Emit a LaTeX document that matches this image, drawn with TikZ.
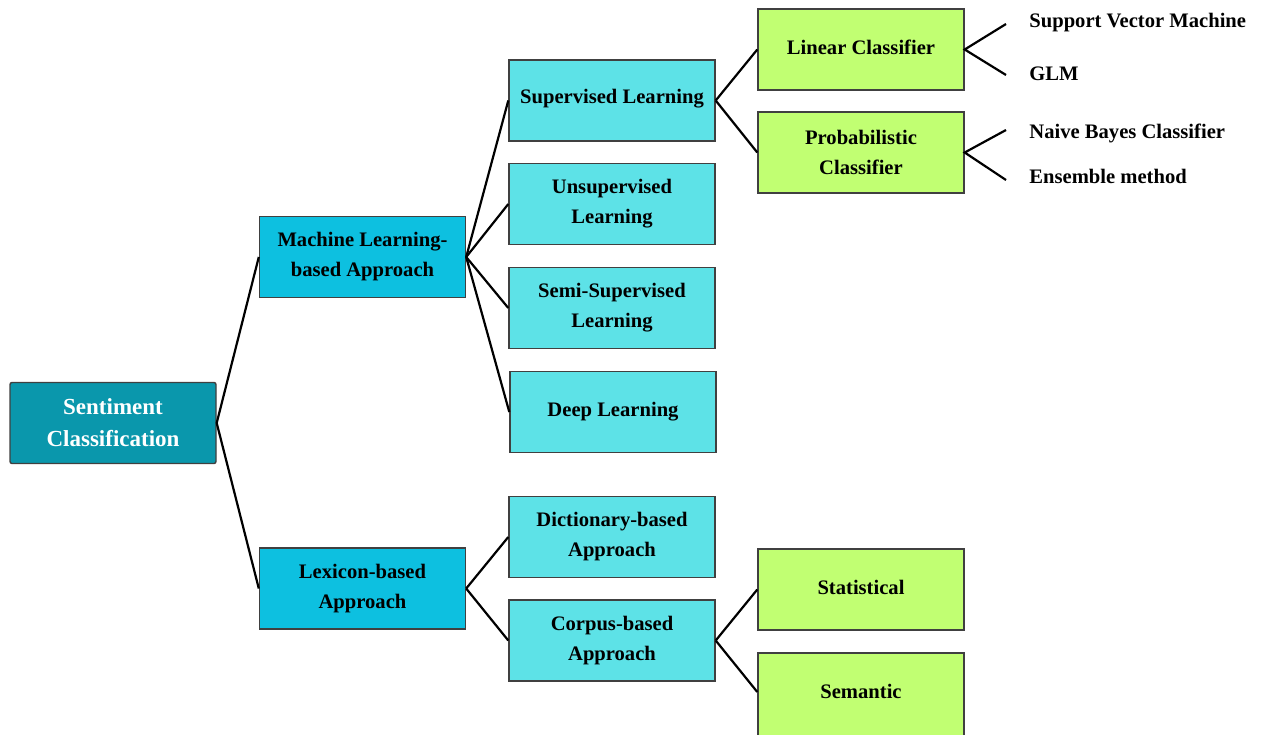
\documentclass[tikz,border=0pt]{standalone}
\usepackage{fontspec}
\setmainfont{Liberation Serif}
% lift a label slightly without changing the node's size
\newcommand\lift[1]{\raisebox{1pt}[\height][\depth]{#1}}
\begin{document}
\begin{tikzpicture}[x=0.5pt,y=-0.5pt,
  box/.style={draw=black!75, line width=0.7pt, minimum width=103pt, minimum height=40.5pt,
    inner sep=0pt, align=center, font=\bfseries\fontsize{10.3}{15}\selectfont},
  rootbox/.style={box, fill=rootteal, rounded corners=1pt, text=white,
    font=\bfseries\fontsize{11.5}{16}\selectfont},
  midbox/.style={box, fill=midcyan},
  learnbox/.style={box, fill=lightcyan},
  leafbox/.style={box, fill=leafgreen},
  leaftext/.style={anchor=base west, inner sep=0pt, font=\bfseries\fontsize{10.3}{12}\selectfont},
  link/.style={line width=1.1pt, black}
]
\definecolor{rootteal}{HTML}{0A97AC}
\definecolor{midcyan}{HTML}{0DC0E0}
\definecolor{lightcyan}{HTML}{5DE2E7}
\definecolor{leafgreen}{HTML}{C1FF72}
\useasboundingbox (0,0) rectangle (1263,734);
\begin{scope}
\clip (0,0) rectangle (1263,734);

% root and first level
\node[rootbox] (sent) at (113,423) {Sentiment\\Classification};
\node[midbox] (ml) at (362.5,257) {Machine Learning-\\based Approach};
\node[midbox] (lex) at (362.5,588.5) {Lexicon-based\\Approach};

% machine learning branches
\node[learnbox] (sup) at (612,100.5) {\lift{Supervised Learning}};
\node[learnbox] (unsup) at (612,204) {Unsupervised\\Learning};
\node[learnbox] (semi) at (612,308) {Semi-Supervised\\Learning};
\node[learnbox] (deep) at (613,412) {Deep Learning};

% lexicon branches
\node[learnbox] (dict) at (612,537) {Dictionary-based\\Approach};
\node[learnbox] (corp) at (612,640.5) {Corpus-based\\Approach};

% classifiers
\node[leafbox] (lin) at (861,49.5) {\lift{Linear Classifier}};
\node[leafbox] (prob) at (861,152.5) {Probabilistic\\Classifier};
\node[leafbox] (stat) at (861,589.5) {\lift{Statistical}};
\node[leafbox, minimum height=42pt] (sem) at (861,695) {\raisebox{2pt}[\height][\depth]{Semantic}};

% leaf labels
\coordinate (svmEnd) at (1006,24);
\coordinate (glmEnd) at (1006,75);
\coordinate (nbEnd) at (1006,130);
\coordinate (ensEnd) at (1006,180);
\node[leaftext] (svm) at (1029,27) {Support Vector Machine};
\node[leaftext] (glm) at (1029,80) {GLM};
\node[leaftext] (nb) at (1029,138) {Naive Bayes Classifier};
\node[leaftext] (ens) at (1029,183) {Ensemble method};

% connectors
\draw[link] (sent.east) -- (ml.west);
\draw[link] (sent.east) -- (lex.west);
\foreach \c in {sup,unsup,semi,deep} \draw[link] (ml.east) -- (\c.west);
\foreach \c in {dict,corp} \draw[link] (lex.east) -- (\c.west);
\foreach \c in {lin,prob} \draw[link] (sup.east) -- (\c.west);
\draw[link] (corp.east) -- (stat.west);
\draw[link] (corp.east) -- ([yshift=1.5pt]sem.west);
\draw[link] (svmEnd) -- (lin.east) -- (glmEnd);
\draw[link] (nbEnd) -- (prob.east) -- (ensEnd);
\end{scope}
\end{tikzpicture}
\end{document}
